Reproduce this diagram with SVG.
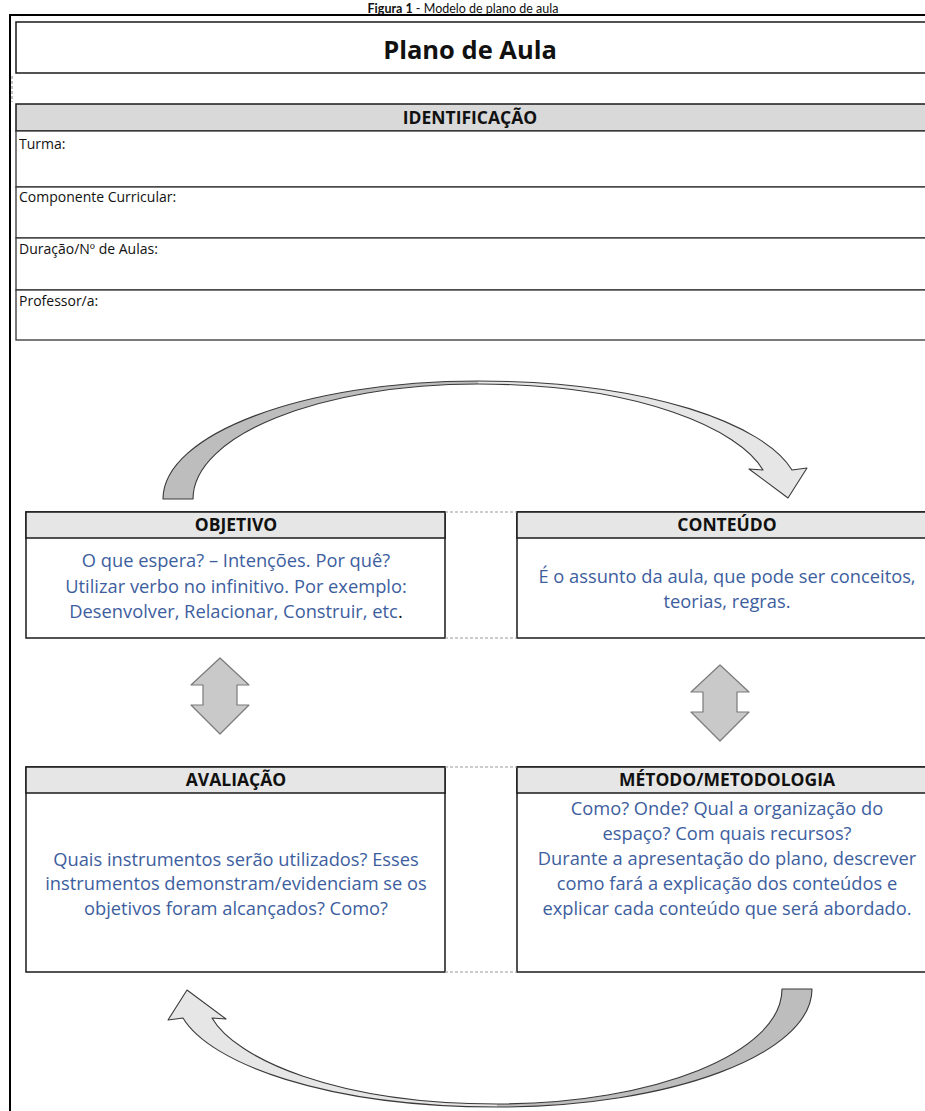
<svg xmlns="http://www.w3.org/2000/svg" width="925" height="1111" viewBox="0 0 925 1111">
<defs>
<style>
.frame{fill:none;stroke:#000;stroke-width:2}
.box{fill:#fff;stroke:#1a1a1a;stroke-width:1.5}
.hdr{fill:#e6e6e6;stroke:#1a1a1a;stroke-width:1.5}
.idhdr{fill:#d9d9d9;stroke:#1a1a1a;stroke-width:1.5}
.row{fill:#fff;stroke:#333;stroke-width:1.3}
.dash{fill:none;stroke:#9a9a9a;stroke-width:1.2;stroke-dasharray:3 2}
.h{font-family:"Open Sans","Noto Sans",sans-serif;font-weight:bold;font-size:17.5px;fill:#111;text-anchor:middle}
.b{font-family:"Open Sans","Noto Sans",sans-serif;font-size:18.3px;fill:#3d5e9e;text-anchor:middle}
.lbl{font-family:"Open Sans","Noto Sans",sans-serif;font-size:14px;fill:#111}
.darkf{fill:#bdbdbd;stroke:none}
.lightf{fill:#e6e6e6;stroke:none}
.outline{fill:none;stroke:#3a3a3a;stroke-width:1.1;stroke-linejoin:round}
.dbl{fill:#c9c9c9;stroke:#7a7a7a;stroke-width:1.2;stroke-linejoin:round}
</style>
</defs>
<rect width="925" height="1111" fill="#fff"/>

<g id="caption">
<text x="463" y="12.5" text-anchor="middle" font-family="Lato,'Open Sans',sans-serif" font-size="12.5px" fill="#111"><tspan font-weight="bold">Figura 1</tspan> - Modelo de plano de aula</text>
</g>

<g id="frame">
<path class="frame" d="M10,1112 V15 H930"/>
<line class="dash" x1="12" y1="76" x2="12" y2="102"/>
</g>

<g id="title">
<rect class="box" x="16" y="22" width="914" height="51"/>
<text x="470" y="59" text-anchor="middle" font-family="'Open Sans','Noto Sans',sans-serif" font-weight="bold" font-size="25.5px" fill="#111">Plano de Aula</text>
</g>

<g id="identificacao">
<rect class="idhdr" x="16" y="104" width="914" height="27"/>
<text class="h" x="470" y="124">IDENTIFICAÇÃO</text>
<rect class="row" x="16" y="131" width="914" height="56"/>
<text class="lbl" x="19" y="149">Turma:</text>
<rect class="row" x="16" y="187" width="914" height="51"/>
<text class="lbl" x="19" y="202">Componente Curricular:</text>
<rect class="row" x="16" y="238" width="914" height="52"/>
<text class="lbl" x="19" y="254">Duração/Nº de Aulas:</text>
<rect class="row" x="16" y="290" width="914" height="50"/>
<text class="lbl" x="19" y="306">Professor/a:</text>
</g>

<g id="objetivo">
<rect class="box" x="26" y="512" width="419" height="126"/>
<rect class="hdr" x="26" y="512" width="419" height="26"/>
<text class="h" x="236" y="531">OBJETIVO</text>
<text class="b" x="236" y="567">O que espera? – Intenções. Por quê?</text>
<text class="b" x="236" y="593">Utilizar verbo no infinitivo. Por exemplo:</text>
<text class="b" x="236" y="618">Desenvolver, Relacionar, Construir, etc<tspan fill="#111">.</tspan></text>
</g>

<g id="conteudo">
<rect class="box" x="517" y="512" width="419" height="126"/>
<rect class="hdr" x="517" y="512" width="419" height="26"/>
<text class="h" x="727" y="531">CONTEÚDO</text>
<text class="b" x="727" y="583">É o assunto da aula, que pode ser conceitos,</text>
<text class="b" x="727" y="608">teorias, regras.</text>
</g>

<g id="avaliacao">
<rect class="box" x="26" y="767" width="419" height="205"/>
<rect class="hdr" x="26" y="767" width="419" height="26"/>
<text class="h" x="236" y="786">AVALIAÇÃO</text>
<text class="b" x="236" y="866">Quais instrumentos serão utilizados? Esses</text>
<text class="b" x="236" y="890">instrumentos demonstram/evidenciam se os</text>
<text class="b" x="236" y="915">objetivos foram alcançados? Como?</text>
</g>

<g id="metodo">
<rect class="box" x="517" y="767" width="419" height="205"/>
<rect class="hdr" x="517" y="767" width="419" height="26"/>
<text class="h" x="727" y="786">MÉTODO/METODOLOGIA</text>
<text class="b" x="727" y="815">Como? Onde? Qual a organização do</text>
<text class="b" x="727" y="840">espaço? Com quais recursos?</text>
<text class="b" x="727" y="865">Durante a apresentação do plano, descrever</text>
<text class="b" x="727" y="890">como fará a explicação dos conteúdos e</text>
<text class="b" x="727" y="915">explicar cada conteúdo que será abordado.</text>
</g>

<g id="connectors">
<line class="dash" x1="445" y1="512" x2="517" y2="512"/>
<line class="dash" x1="445" y1="638" x2="517" y2="638"/>
<line class="dash" x1="445" y1="767" x2="517" y2="767"/>
<line class="dash" x1="445" y1="972" x2="517" y2="972"/>
<g id="arc-top">
<path class="darkf" d="M163,499 C163,434 304,381 478,381 L478,384 C321,384 193,435 193,499 Z"/>
<path class="lightf" d="M478,381 C650,381 765,425 792,470 L807,468 L788,498 L749,469 L763,470 C740,430 640,384 478,384 Z"/>
<path class="outline" d="M163,499 C163,434 304,381 478,381 C650,381 765,425 792,470 L807,468 L788,498 L749,469 L763,470 C740,430 640,384 478,384 C321,384 193,435 193,499 Z"/>
</g>
<g id="arc-bottom" transform="rotate(180 487.5 744)">
<path class="darkf" d="M163,499 C163,434 304,381 478,381 L478,384 C321,384 193,435 193,499 Z"/>
<path class="lightf" d="M478,381 C650,381 765,425 792,470 L807,468 L788,498 L749,469 L763,470 C740,430 640,384 478,384 Z"/>
<path class="outline" d="M163,499 C163,434 304,381 478,381 C650,381 765,425 792,470 L807,468 L788,498 L749,469 L763,470 C740,430 640,384 478,384 C321,384 193,435 193,499 Z"/>
</g>
<polygon class="dbl" points="220,658 249,685 237,685 237,705 249,705 220,734 191,705 203,705 203,685 191,685"/>
<polygon class="dbl" points="720,665 749,692 737,692 737,712 749,712 720,741 691,712 703,712 703,692 691,692"/>
</g>
</svg>
